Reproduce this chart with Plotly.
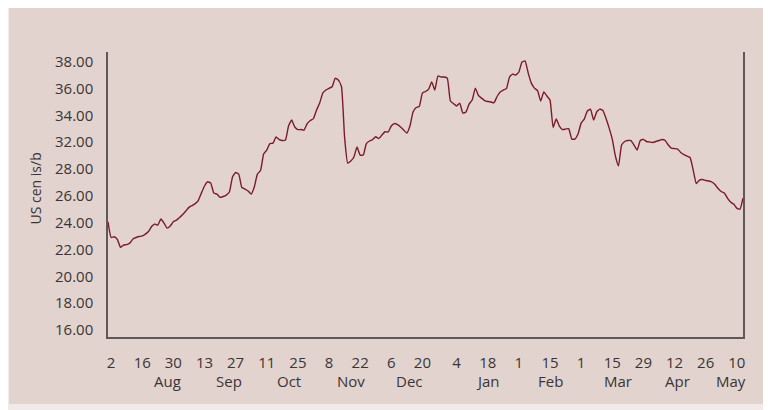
import numpy as np
import pandas as pd
import plotly.graph_objects as go

# ---- data (daily trading days, 30 Jul 2010 - 12 May 2011) ----
start_date = "2010-07-30"
end_date = "2011-05-12"
prices = [
    24.88, 23.59, 23.65, 23.44, 22.78, 22.97, 23.01, 23.13, 23.46, 23.59,
    23.67, 23.72, 23.87, 24.08, 24.49, 24.69, 24.61, 25.10, 24.77, 24.36,
    24.53, 24.88, 25.02, 25.23, 25.47, 25.76, 26.06, 26.21, 26.37, 26.62,
    27.23, 27.81, 28.16, 28.05, 27.23, 27.15, 26.88, 26.95, 27.07, 27.32,
    28.55, 28.92, 28.79, 27.69, 27.56, 27.40, 27.15, 27.73, 28.79, 29.08,
    30.43, 30.76, 31.29, 31.33, 31.83, 31.62, 31.54, 31.58, 32.73, 33.22,
    32.65, 32.44, 32.44, 32.40, 32.93, 33.18, 33.34, 34.04, 34.61, 35.43,
    35.68, 35.82, 35.95, 36.66, 36.50, 35.97, 31.83, 29.69, 29.86, 30.19,
    31.01, 30.35, 30.35, 31.29, 31.50, 31.62, 31.85, 31.70, 31.99, 32.26,
    32.24, 32.73, 32.93, 32.85, 32.65, 32.40, 32.15, 32.73, 33.88, 34.25,
    34.33, 35.43, 35.56, 35.76, 36.34, 35.68, 36.83, 36.75, 36.75, 36.66,
    34.78, 34.57, 34.37, 34.61, 33.79, 33.88, 34.53, 34.86, 35.84, 35.23,
    35.02, 34.82, 34.74, 34.70, 34.64, 35.15, 35.52, 35.68, 35.80, 36.75,
    36.99, 36.91, 37.16, 37.98, 38.06, 37.07, 36.25, 35.84, 35.64, 34.78,
    35.52, 35.19, 34.86, 32.61, 33.30, 32.73, 32.44, 32.48, 32.52, 31.66,
    31.66, 32.07, 32.97, 33.30, 33.96, 34.12, 33.22, 33.88, 34.12, 34.00,
    33.34, 32.56, 31.66, 30.27, 29.45, 31.17, 31.46, 31.54, 31.54, 31.17,
    30.76, 31.54, 31.64, 31.46, 31.42, 31.38, 31.46, 31.54, 31.62, 31.54,
    31.17, 30.92, 30.88, 30.84, 30.56, 30.39, 30.27, 30.15, 29.12, 28.01,
    28.30, 28.34, 28.26, 28.22, 28.14, 27.93, 27.60, 27.36, 27.23, 26.82,
    26.50, 26.33, 26.00, 25.90, 26.82,
]
dates = pd.bdate_range(start_date, end_date)
n = min(len(dates), len(prices))
dates = dates[:n]
prices = prices[:n]

x_tick_dates = [
    "2010-08-02", "2010-08-16", "2010-08-30", "2010-09-13", "2010-09-27",
    "2010-10-11", "2010-10-25", "2010-11-08", "2010-11-22", "2010-12-06",
    "2010-12-20", "2011-01-04", "2011-01-18", "2011-02-01", "2011-02-15",
    "2011-03-01", "2011-03-15", "2011-03-29", "2011-04-12", "2011-04-26",
    "2011-05-10",
]
x_tick_labels = ["2", "16", "30", "13", "27", "11", "25", "8", "22", "6",
                 "20", "4", "18", "1", "15", "1", "15", "29", "12", "26", "10"]
month_labels = ["Aug", "Sep", "Oct", "Nov", "Dec", "Jan", "Feb", "Mar", "Apr", "May"]
month_label_dates = ["2010-08-26", "2010-09-23", "2010-10-20", "2010-11-17",
                     "2010-12-14", "2011-01-18", "2011-02-15", "2011-03-17",
                     "2011-04-13", "2011-05-06"]
y_tick_labels = ["16.00", "18.00", "20.00", "22.00", "24.00", "26.00",
                 "28.00", "32.00", "34.00", "36.00", "38.00"]
y_title = "US cen is/b"

FONT = "Open Sans"
TXT = "#3a3535"
AXIS = "#5e5858"

fig = go.Figure()
fig.add_trace(go.Scatter(
    x=dates, y=prices, mode="lines",
    line=dict(color="#7a1c28", width=1.4, shape="spline", smoothing=0.4),
    hoverinfo="skip", showlegend=False,
))

for lab, d in zip(month_labels, month_label_dates):
    fig.add_annotation(x=d, xref="x", y=-0.154, yref="paper", text=lab,
                       showarrow=False, xanchor="center", yanchor="middle",
                       font=dict(family=FONT, size=15, color=TXT))

fig.add_annotation(x=-0.1134, xref="paper", y=0.521, yref="paper", text=y_title,
                   textangle=-90, showarrow=False, xanchor="center", yanchor="middle",
                   font=dict(family=FONT, size=14, color=TXT))

# panel tone behind the chart
fig.add_shape(type="rect", xref="paper", yref="paper",
              x0=-0.1559, x1=1.0331, y0=-0.2351, y1=1.1579,
              line=dict(width=0), fillcolor="#e2d3cf", layer="below")

fig.update_layout(
    width=763, height=402,
    margin=dict(l=100, r=28, t=44, b=73),
    paper_bgcolor="#f2eae8",
    plot_bgcolor="rgba(0,0,0,0)",
    font=dict(family=FONT, size=15, color=TXT),
    xaxis=dict(
        type="date",
        range=[start_date, end_date],
        rangebreaks=[dict(bounds=["sat", "mon"])],
        tickmode="array", tickvals=x_tick_dates, ticktext=x_tick_labels,
        showgrid=False, zeroline=False,
        showline=True, linecolor=AXIS, linewidth=1.5,
        ticks="outside", ticklen=11, tickcolor="rgba(0,0,0,0)",
        tickfont=dict(family=FONT, size=15, color=TXT),
    ),
    yaxis=dict(
        range=[15.43, 38.8],
        tickmode="array", tickvals=list(np.linspace(16, 38, 11)),
        ticktext=y_tick_labels,
        showgrid=False, zeroline=False,
        showline=True, mirror=True, linecolor=AXIS, linewidth=1.5,
        ticks="outside", ticklen=10, tickcolor="rgba(0,0,0,0)",
        tickfont=dict(family=FONT, size=15, color=TXT),
    ),
)

fig.write_html("out.html")
